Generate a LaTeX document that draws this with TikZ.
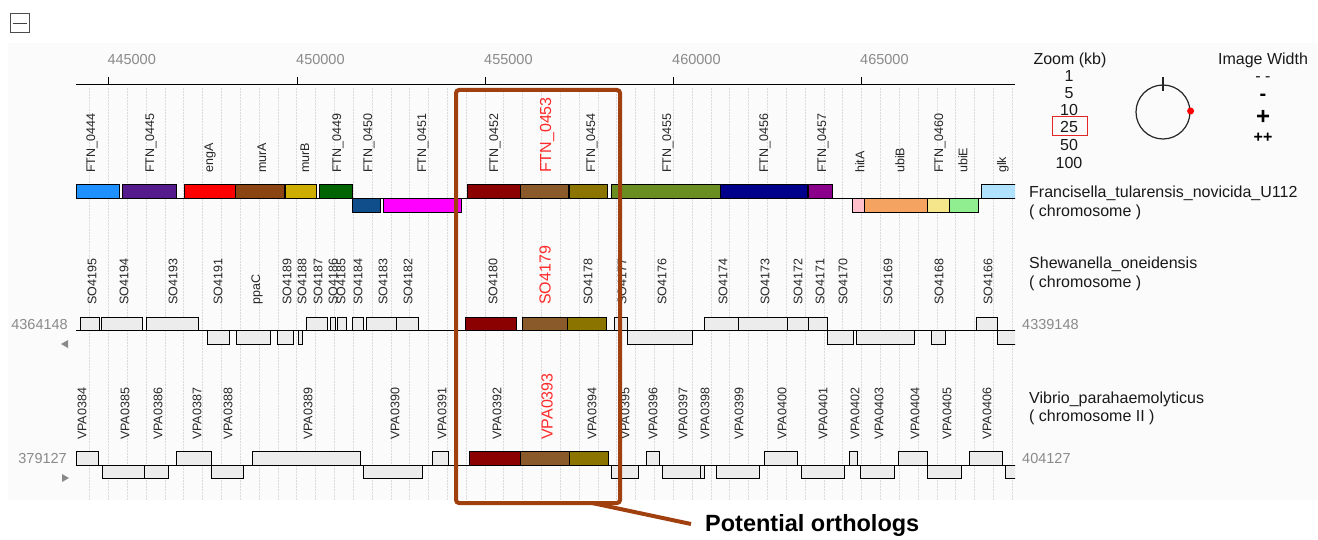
\documentclass[tikz,border=0pt]{standalone}
\usepackage{fontspec}
\setmainfont{Liberation Sans}
\definecolor{cA}{HTML}{1E90FF}
\definecolor{cB}{HTML}{551A8B}
\definecolor{cC}{HTML}{FF0000}
\definecolor{cD}{HTML}{8B4513}
\definecolor{cE}{HTML}{CDAD00}
\definecolor{cF}{HTML}{006400}
\definecolor{cG}{HTML}{104E8B}
\definecolor{cH}{HTML}{FF00FF}
\definecolor{cI}{HTML}{8B0000}
\definecolor{cJ}{HTML}{8B5A2B}
\definecolor{cK}{HTML}{8B7500}
\definecolor{cL}{HTML}{6B8E23}
\definecolor{cM}{HTML}{00008B}
\definecolor{cN}{HTML}{8B008B}
\definecolor{cO}{HTML}{FFC0CB}
\definecolor{cP}{HTML}{F4A460}
\definecolor{cQ}{HTML}{F5E68C}
\definecolor{cR}{HTML}{90EE90}
\definecolor{cS}{HTML}{B0E2FF}
\definecolor{cZ}{HTML}{ECECEC}
\definecolor{labred}{HTML}{FF2A2A}
\definecolor{orthocol}{HTML}{A0400F}
\definecolor{axgray}{HTML}{8A8A8A}
\definecolor{panel}{HTML}{FBFBFB}
\begin{document}
\begin{tikzpicture}[x=1pt,y=-1pt,
  glab/.style={rotate=90, anchor=west, inner sep=0pt, font=\fontsize{12.5}{13}\selectfont, text=black!85},
  rlab/.style={rotate=90, anchor=west, inner sep=0pt, font=\fontsize{16}{17}\selectfont, text=labred},
  gbox/.style={draw=black, line width=1pt},
  numlab/.style={inner sep=0pt, font=\fontsize{14.5}{15}\selectfont, text=axgray},
  leg/.style={inner sep=0pt, font=\fontsize{16}{17}\selectfont, text=black!90},
  gridl/.style={draw=black!14, densely dotted, line width=0.5pt}
]
\useasboundingbox (0,0) rectangle (1318,540);
% faint panel
\fill[panel] (8,43) rectangle (1318,500);
% collapse icon
\node[draw=black!70, line width=1pt, minimum size=19pt, inner sep=0pt] (icon) at (19.5,23.5) {};
\draw[black!75, line width=1.2pt] ([xshift=3pt]icon.west) -- ([xshift=-3pt]icon.east);
% grid
\foreach \k in {-1,...,48} {
  \draw[gridl] ({108.3+18.83*\k},88) -- ({108.3+18.83*\k},500);
}
% axis
\coordinate (axL) at (76,85);
\coordinate (axR) at (1015,85);
\draw[line width=1pt] (axL) -- (axR);
\foreach \x/\t [count=\i] in {108.3/445000,297/450000,485/455000,673/460000,861/465000} {
  \draw[line width=1pt] (\x,85) -- (\x,77);
  \node[numlab, anchor=west] (ax\i) at (\x-1,60) {\t};
}
% baselines
\foreach \y [count=\i] in {199,330,465} {
  \coordinate (bl\i) at (76,\y);
  \coordinate (br\i) at (1015,\y);
  \draw[line width=1pt] (bl\i) -- (br\i);
}
\begin{scope}
\clip (70,80) rectangle (1015,505);
% track 1
\foreach \a/\b/\r/\c in {76/119/0/cA,122/176/0/cB,184/235/0/cC,235/284/0/cD,285/316/0/cE,319/352/0/cF,352/380/1/cG,383/461/1/cH,467/520/0/cI,520/568/0/cJ,569/607/0/cK,611/720/0/cL,720/807/0/cM,808/832/0/cN,852/864/1/cO,864/927/1/cP,927/949/1/cQ,949/978/1/cR,981/1018/0/cS} {
  \draw[gbox, fill=\c] (\a,{185+14*\r}) rectangle (\b,{199+14*\r});
}
% track 2
\foreach \a/\b/\r/\c in {80/99/0/cZ,101/142/0/cZ,146/198/0/cZ,207/229/1/cZ,236/270/1/cZ,277/293/1/cZ,298/302/1/cZ,306/327/0/cZ,330/335/0/cZ,337/346/0/cZ,352/363/0/cZ,366/396/0/cZ,396/418/0/cZ,465/516/0/cI,522/567/0/cJ,567/606/0/cK,614/627/0/cZ,627/692/1/cZ,704/738/0/cZ,738/787/0/cZ,787/808/0/cZ,808/827/0/cZ,827/853/1/cZ,856/914/1/cZ,931/945/1/cZ,976/997/0/cZ,997/1018/1/cZ} {
  \draw[gbox, fill=\c] (\a,{317+13.5*\r}) rectangle (\b,{330.5+13.5*\r});
}
% track 3
\foreach \a/\b/\r/\c in {76/98/0/cZ,102/144/1/cZ,144/168/1/cZ,176/211/0/cZ,211/243/1/cZ,252/360/0/cZ,363/422/1/cZ,432/448/0/cZ,469/520/0/cI,520/569/0/cJ,569/608/0/cK,611/638/1/cZ,646/659/0/cZ,662/700/1/cZ,700/704/1/cZ,716/759/1/cZ,764/797/0/cZ,801/844/1/cZ,849/857/0/cZ,860/894/1/cZ,898/927/0/cZ,927/961/1/cZ,969/1002/0/cZ,1005/1018/1/cZ} {
  \draw[gbox, fill=\c] (\a,{451.5+13.5*\r}) rectangle (\b,{465+13.5*\r});
}
\end{scope}
% labels track 1
\foreach \x/\t [count=\i] in {92/FTN\_0444,151/FTN\_0445,210/engA,262/murA,305/murB,338/FTN\_0449,369/FTN\_0450,423/FTN\_0451,495/FTN\_0452,592/FTN\_0454,668/FTN\_0455,765/FTN\_0456,823/FTN\_0457,860/hitA,900/ubiB,940/FTN\_0460,963/ubiE,1003/glk} {
  \node[glab] (fa\i) at (\x,173) {\t};
}
\node[rlab] (fred) at (547,173) {FTN\_0453};
% labels track 2
\foreach \x/\t [count=\i] in {92/SO4195,124/SO4194,173/SO4193,218/SO4191,257/ppaC,287/SO4189,302/SO4188,318/SO4187,333/SO4186,341/SO4185,358/SO4184,383/SO4183,408/SO4182,493/SO4180,588/SO4178,622/SO4177,662/SO4176,723/SO4174,765/SO4173,798/SO4172,820/SO4171,843/SO4170,888/SO4169,939/SO4168,988/SO4166} {
  \node[glab] (so\i) at (\x,305) {\t};
}
\node[rlab] (sred) at (545,305) {SO4179};
% labels track 3
\foreach \x/\t [count=\i] in {82/VPA0384,125/VPA0385,158/VPA0386,197/VPA0387,228/VPA0388,308/VPA0389,395/VPA0390,442/VPA0391,497/VPA0392,592/VPA0394,625/VPA0395,653/VPA0396,683/VPA0397,705/VPA0398,739/VPA0399,782/VPA0400,823/VPA0401,855/VPA0402,879/VPA0403,915/VPA0404,947/VPA0405,987/VPA0406} {
  \node[glab] (vp\i) at (\x,440) {\t};
}
\node[rlab] (vred) at (547,440) {VPA0393};
% coordinates numbers
\node[numlab, anchor=east] (n1l) at (68,325) {4364148};
\node[numlab, anchor=west] (n1r) at (1022,325) {4339148};
\node[numlab, anchor=east] (n2l) at (67,459) {379127};
\node[numlab, anchor=west] (n2r) at (1022,459) {404127};
\fill[axgray] (68,340) -- (68,348) -- (61,344) -- cycle;
\fill[axgray] (62,474) -- (62,482) -- (69,478) -- cycle;
% species
\node[leg, anchor=west] (sp1) at (1029,193) {Francisella\_tularensis\_novicida\_U112};
\node[leg, anchor=west] (sp1b) at (1029,212) {( chromosome )};
\node[leg, anchor=west] (sp2) at (1029,264) {Shewanella\_oneidensis};
\node[leg, anchor=west] (sp2b) at (1029,283) {( chromosome )};
\node[leg, anchor=west] (sp3) at (1029,399) {Vibrio\_parahaemolyticus};
\node[leg, anchor=west] (sp3b) at (1029,417) {( chromosome II )};
% zoom legend
\node[leg] (zt) at (1070,60) {Zoom (kb)};
\foreach \y/\t [count=\i] in {76/1,93/5,110/10,127/25,145/50,163/100} {
  \node[leg] (z\i) at (1069,\y) {\t};
}
\node[draw=labred!90!black, line width=1pt, minimum width=35pt, minimum height=19pt, inner sep=0pt] (zsel) at (1069.5,126.5) {};
% dial
\node[circle, draw=black!85, line width=1.2pt, minimum size=54pt, inner sep=0pt] (dial) at (1163,112) {};
\draw[black!85, line width=1.2pt] ([yshift=7pt]dial.north) -- ([yshift=-7pt]dial.north);
\node[circle, fill=red, inner sep=0pt, minimum size=7pt] (dot) at ([yshift=1pt]dial.east) {};
% image width
\node[leg] (iw) at (1263,60) {Image Width};
\node[leg] (iw1) at (1263,79) {- -};
\node[inner sep=0pt, font=\fontsize{20}{20}\selectfont\bfseries] (iw2) at (1263,97) {-};
\node[inner sep=0pt, font=\fontsize{24}{24}\selectfont\bfseries] (iw3) at (1263,117) {+};
\node[inner sep=0pt, font=\fontsize{16}{16}\selectfont\bfseries] (iw4) at (1263,138) {++};
% orthologs box
\node[draw=orthocol, line width=4pt, rounded corners=3pt, minimum width=164pt, minimum height=413pt, inner sep=0pt] (ortho) at (538,296.5) {};
\node[inner sep=0pt, anchor=west, font=\fontsize{23.5}{24}\selectfont\bfseries] (potlabel) at (705,525) {Potential orthologs};
\coordinate (os) at (592,503);
\draw[orthocol, line width=4pt] (os) -- ([xshift=-14pt,yshift=1pt]potlabel.west);
\end{tikzpicture}
\end{document}
